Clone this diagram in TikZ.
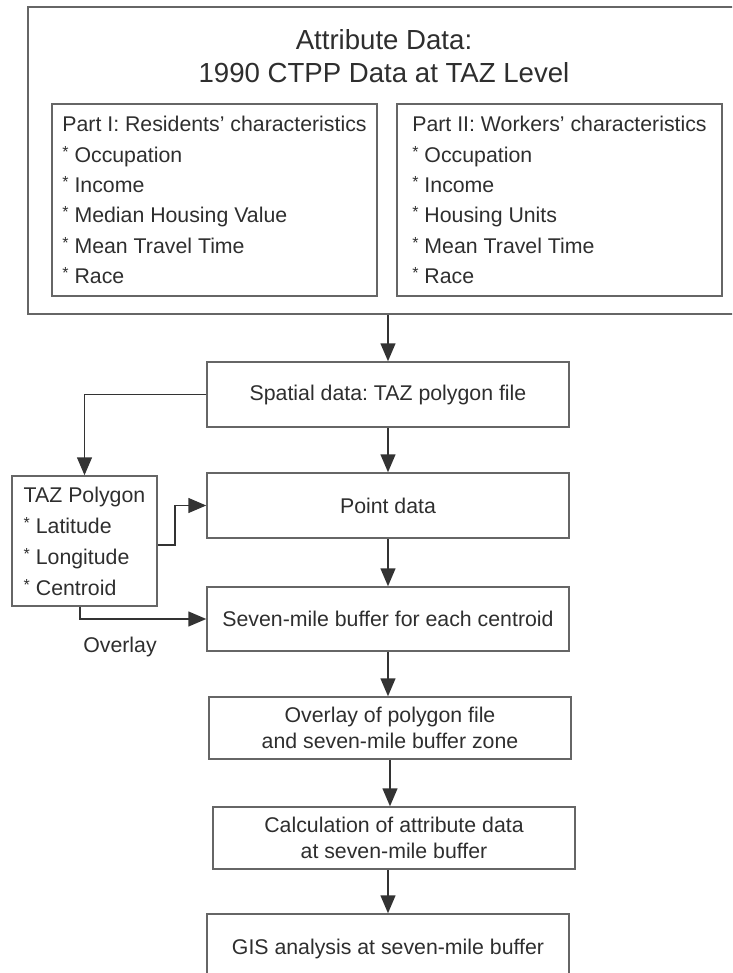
\documentclass[tikz,border=0pt]{standalone}
\usepackage{fontspec}
\setmainfont{Liberation Sans}
\usetikzlibrary{arrows.meta}
\definecolor{linec}{HTML}{333333}
\definecolor{boxc}{HTML}{666666}
\definecolor{txtc}{HTML}{2E2E2E}
\newcommand{\bul}{\raisebox{5pt}{\fontsize{16}{16}\selectfont *}}
\tikzset{
  box/.style={draw=boxc, line width=1.5pt, rectangle, inner sep=0pt, text=txtc,
    font=\fontsize{21.3}{26}\selectfont, align=center},
  listbox/.style={box, align=left, font=\fontsize{21.3}{30.4}\selectfont},
  arr/.style={draw=linec, line width=1.5pt, -{Triangle[length=18pt,width=15pt]}},
  lbl/.style={text=txtc, font=\fontsize{21.3}{26}\selectfont, inner sep=0pt}
}
\begin{document}
\frenchspacing
\begin{tikzpicture}[x=1pt,y=-1pt]
\useasboundingbox (0,0) rectangle (732,973);
\clip (0,0) rectangle (732,973);
% outer attribute box
\node[box, minimum width=717pt, minimum height=307pt] (outer) at (386.5,160.5) {};
\node[lbl, align=center, font=\fontsize{27.6}{33}\selectfont] (title) at (384,56.5)
  {Attribute Data:\\1990 CTPP Data at TAZ Level};
\node[listbox, minimum width=325pt, minimum height=192pt] (res) at (214.5,200)
  {Part I: Residents' characteristics\\\bul{} Occupation\\\bul{} Income\\\bul{} Median Housing Value\\\bul{} Mean Travel Time\\\bul{} Race};
\node[listbox, minimum width=325pt, minimum height=192pt] (wrk) at (559.5,200)
  {Part II: Workers' characteristics\\\bul{} Occupation\\\bul{} Income\\\bul{} Housing Units\\\bul{} Mean Travel Time\\\bul{} Race};
% flow boxes
\node[box, minimum width=362pt, minimum height=65pt] (spatial) at (388,394.5) {Spatial data: TAZ polygon file};
\node[box, minimum width=362pt, minimum height=65pt] (point) at (388,505.5) {Point data};
\node[listbox, font=\fontsize{21.3}{31}\selectfont, minimum width=145pt, minimum height=130pt] (taz) at (84.5,541)
  {TAZ Polygon\\\bul{} Latitude\\\bul{} Longitude\\\bul{} Centroid};
\node[box, minimum width=362pt, minimum height=64pt] (seven) at (388,619) {Seven-mile buffer for each centroid};
\node[box, minimum width=362pt, minimum height=62pt] (overlay) at (390,728) {Overlay of polygon file\\and seven-mile buffer zone};
\node[box, minimum width=362pt, minimum height=62pt] (calc) at (394,838) {Calculation of attribute data\\at seven-mile buffer};
\node[box, minimum width=362pt, minimum height=70pt] (gis) at (388,949) {GIS analysis at seven-mile buffer};
\node[lbl] (ovl) at (120,647) {Overlay};
% connectors
\coordinate (tb) at (175,0);
\draw[arr] (spatial.north |- outer.south) -- (spatial.north);
\draw[arr] (spatial.south) -- (point.north);
\draw[arr] (spatial.west) -| (taz.north);
\draw[arr] ([yshift=-4pt]taz.east) -| (tb |- point.west) -- (point.west);
\draw[arr] ([xshift=-4.5pt]taz.south) |- (seven.west);
\draw[arr] (point.south) -- (seven.north);
\draw[arr] (seven.south) -- (seven.south |- overlay.north);
\draw[arr] (overlay.south) -- (overlay.south |- calc.north);
\draw[arr] ([xshift=-6pt]calc.south) -- ([xshift=-6pt]calc.south |- gis.north);
\end{tikzpicture}
\end{document}
